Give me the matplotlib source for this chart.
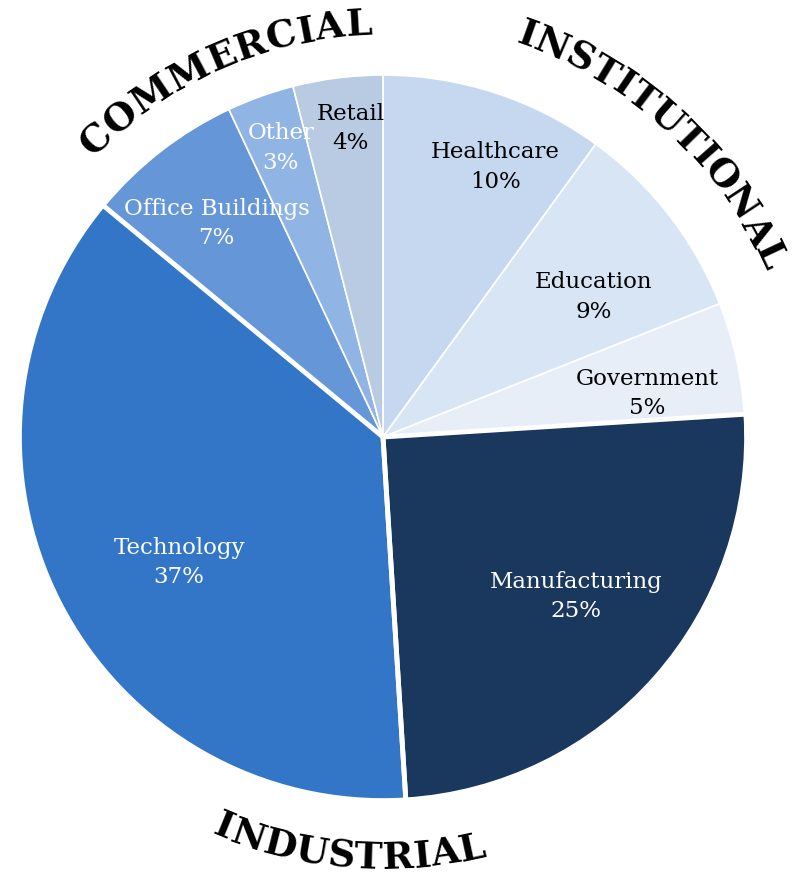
import numpy as np
import matplotlib
matplotlib.use('Agg')
import matplotlib.pyplot as plt

# data
sectors = ['Healthcare', 'Education', 'Government', 'Manufacturing',
           'Technology', 'Office Buildings', 'Other', 'Retail']
shares = [10, 9, 5, 25, 37, 7, 3, 4]
groups = ['INSTITUTIONAL', 'INSTITUTIONAL', 'INSTITUTIONAL', 'INDUSTRIAL',
          'INDUSTRIAL', 'COMMERCIAL', 'COMMERCIAL', 'COMMERCIAL']

colors = ['#c6d8f0', '#d8e5f4', '#e7eef8', '#1a375e',
          '#3375c7', '#6597d8', '#90b4e3', '#b8cbe3']
txt_col = ['black', 'black', 'black', 'white', 'white', 'white', 'white', 'black']
# label placement : angular shift (deg) and radius fraction
lab_shift = [-4.5, -4.0, -3.0, 2.0, 4.4, 0.0, -0.4, -1.2]
lab_rad = [0.81, 0.70, 0.74, 0.69, 0.66, 0.75, 0.85, 0.86]

W, H = 800, 879
cx, cy, R = 383, H - 438, 362

fig = plt.figure(figsize=(W/100, H/100), dpi=100)
ax = fig.add_axes([0, 0, 1, 1])

wedges, _ = ax.pie(shares, colors=colors, startangle=90, counterclock=False,
                   center=(cx, cy), radius=R,
                   wedgeprops=dict(edgecolor='white', linewidth=1.2))
ax.set_xlim(0, W)
ax.set_ylim(0, H)
ax.set_aspect('equal')
ax.axis('off')

# thick white lines around the industrial slices
for i, w in enumerate(wedges):
    if groups[i] != 'INDUSTRIAL':
        continue
    for th in (w.theta1, w.theta2):
        a = np.deg2rad(th)
        ax.plot([cx, cx + R*np.cos(a)], [cy, cy + R*np.sin(a)],
                color='white', lw=3.5, solid_capstyle='butt')

for i, w in enumerate(wedges):
    mid = (w.theta1 + w.theta2)/2 + lab_shift[i]
    a = np.deg2rad(mid)
    r = lab_rad[i]*R
    ax.text(cx + r*np.cos(a), cy + r*np.sin(a),
            sectors[i] + '\n' + str(shares[i]) + '%',
            ha='center', va='center', color=txt_col[i],
            fontsize=16.5, family='DejaVu Serif', linespacing=1.45)

# curved group titles
fig.canvas.draw()
rend = fig.canvas.get_renderer()


def curved(text, a0, a1, rb, fs, bottom=False):
    props = dict(fontsize=fs, family='DejaVu Serif', weight='bold')
    ws = []
    for ch in text:
        t = ax.text(0, 0, ch, **props)
        ws.append(t.get_window_extent(rend).width)
        t.remove()
    ws = np.array(ws)
    tot = ws.sum()
    pos = (np.cumsum(ws) - ws/2)/tot
    for ch, p in zip(text, pos):
        th = a0 + (a1 - a0)*p
        a = np.deg2rad(th)
        rot = th + 90 if bottom else th - 90
        ax.text(cx + rb*np.cos(a), cy + rb*np.sin(a), ch, rotation=rot,
                rotation_mode='anchor', ha='center', va='baseline',
                color='black', **props)


curved('COMMERCIAL', 136.0, 91.5, 403, 27)
curved('INSTITUTIONAL', 71.5, 23.5, 417, 27)
curved('INDUSTRIAL', -113.5, -76.0, 431, 27, bottom=True)

fig.savefig('out.png', dpi=100)
